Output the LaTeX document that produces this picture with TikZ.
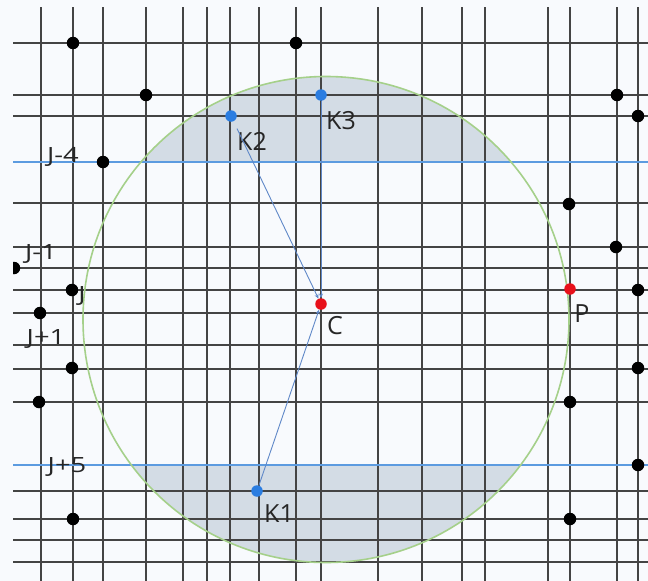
\documentclass[tikz,border=0pt]{standalone}
\usepackage{fontspec}
\setmainfont{Open Sans}
\newfontfamily\jfont[FakeStretch=1.3]{Open Sans}
\usetikzlibrary{arrows.meta}
\definecolor{gridc}{HTML}{444444}
\definecolor{jblue}{HTML}{5C9BE0}
\definecolor{kblue}{HTML}{2A7DE1}
\definecolor{cred}{HTML}{E8101A}
\definecolor{connc}{HTML}{5F88C8}
\definecolor{circc}{HTML}{A5D08A}
\definecolor{segc}{HTML}{D3DCE5}
\definecolor{bgc}{HTML}{F8FAFD}
\definecolor{labc}{HTML}{262626}
\begin{document}
\begin{tikzpicture}[x=1pt,y=-1pt,
  gridline/.style={draw=gridc,line width=1.5pt},
  jline/.style={draw=jblue,line width=1.2pt},
  circline/.style={draw=circc,line width=1.6pt},
  dotb/.style={circle,fill=black,inner sep=0pt,minimum size=12.5pt},
  dotk/.style={circle,fill=kblue,inner sep=0pt,minimum size=11.5pt},
  dotr/.style={circle,fill=cred,inner sep=0pt,minimum size=11.5pt},
  lbl/.style={font=\fontsize{25}{29}\selectfont,text=labc,inner sep=0pt,anchor=center},
  jlbl/.style={font=\jfont\fontsize{21}{25}\selectfont,text=labc,inner sep=0pt,anchor=center},
  conn/.style={draw=connc,line width=0.9pt,-{Stealth[length=4.5pt,width=4pt]}}]
\useasboundingbox (0,0) rectangle (648,581);
\fill[bgc] (0,0) rectangle (648,581);
% shaded circular segments
\begin{scope}
  \clip (326,319.5) circle (243);
  \fill[segc] (0,0) rectangle (648,162);
  \fill[segc] (0,465) rectangle (648,581);
\end{scope}
% grid
\foreach \x in {41,73,103,146,183,207,230,259,296,321,378,422,462,485,548,570,617,638}
  \draw[gridline] (\x,7) -- (\x,581);
\foreach \y in {43,95,116,203,247,268,290,313,345,369,402,491,519,540,562}
  \draw[gridline] (13,\y) -- (648,\y);
% blue row lines
\draw[jline] (13,162) -- (648,162);
\draw[jline] (13,465) -- (648,465);
% circle
\draw[circline] (326,319.5) circle (243);
% labels
\node[jlbl] (lJm4) at (63,157) {J-4};
\node[jlbl] (lJm1) at (41,254) {J-1};
\node[jlbl] (lJ) at (82,296) {J};
\node[jlbl] (lJp1) at (46,339) {J+1};
\node[jlbl] (lJp5) at (67,467) {J+5};
\node[lbl] (lK1) at (279,514) {K1};
\node[lbl] (lK2) at (252,141) {K2};
\node[lbl] (lK3) at (341,121) {K3};
\node[lbl] (lC) at (335,326) {C};
\node[lbl] (lP) at (582,314) {P};
% black dots
\node[dotb] (b1) at (73,43) {};
\node[dotb] (b2) at (296,43) {};
\node[dotb] (b3) at (146,95) {};
\node[dotb] (b4) at (103,162) {};
\node[dotb] (b5) at (617,95) {};
\node[dotb] (b6) at (638,116) {};
\node[dotb] (b7) at (569,204) {};
\node[dotb] (b8) at (616,247) {};
\node[dotb] (b10) at (72,290) {};
\node[dotb] (b11) at (638,290) {};
\node[dotb] (b12) at (40,313) {};
\node[dotb] (b13) at (72,368) {};
\node[dotb] (b14) at (39,402) {};
\node[dotb] (b15) at (570,402) {};
\node[dotb] (b16) at (638,368) {};
\node[dotb] (b17) at (638,465) {};
\node[dotb] (b18) at (73,519) {};
\node[dotb] (b19) at (570,519) {};
\begin{scope}
  \clip (13,0) rectangle (648,581);
  \node[dotb] (b9) at (14,268) {};
\end{scope}
% centre points and K points
\node[dotr] (C) at (321,304) {};
\node[dotr] (P) at (570,289) {};
\node[dotk] (K1) at (257,491) {};
\node[dotk] (K2) at (231,116) {};
\node[dotk] (K3) at (321,95) {};
% connectors
\draw[conn, shorten <=8pt] (K2) -- (C);
\draw[conn] (K3) -- (C);
\draw[conn] (K1) -- (C);
\end{tikzpicture}
\end{document}
